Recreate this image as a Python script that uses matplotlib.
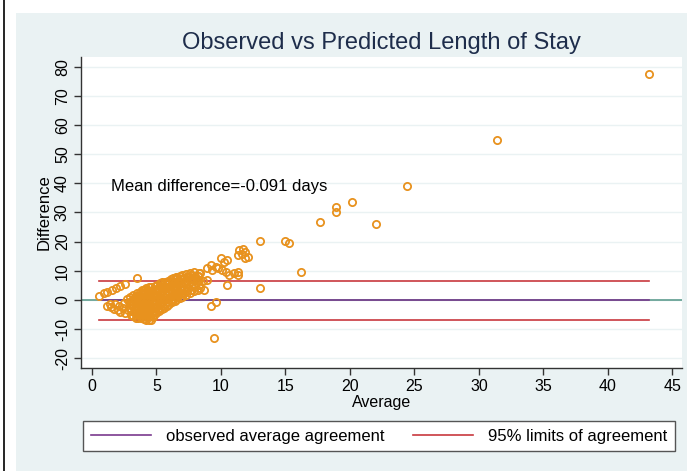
import matplotlib
matplotlib.use("Agg")
import matplotlib.pyplot as plt
from matplotlib.lines import Line2D

# ---------------- data ----------------
avg_chain = [0.55, 0.9, 1.2, 1.55, 1.9, 2.2, 2.6, 3.5]
diff_chain = [1.3, 2.2, 2.8, 3.5, 4.2, 4.8, 5.4, 7.4]

avg_low = [1.2, 1.4, 1.5, 1.7, 1.8, 2.0, 2.1, 2.2, 2.4, 2.5, 2.6, 2.7, 2.8, 2.9]
diff_low = [-2.1, -1.6, -2.6, -3.0, -1.3, -3.6, -2.2, -4.2, -2.9, -1.1, -4.6, 0.4, -3.6, -0.6]

avg_cluster = [
    3.0, 3.05, 2.95, 3.0, 3.1, 2.95,
    3.2, 3.3, 3.25, 3.2, 3.3, 3.25, 3.2,
    3.4, 3.5, 3.45, 3.4, 3.5, 3.45, 3.4, 3.5,
    3.6, 3.7, 3.65, 3.6, 3.7, 3.65, 3.6, 3.7,
    3.8, 3.9, 3.85, 3.8, 3.9, 3.85, 3.8, 3.9, 3.85,
    4.0, 4.1, 4.05, 4.0, 4.1, 4.05, 4.0, 4.1, 4.05,
    4.2, 4.3, 4.25, 4.2, 4.3, 4.25, 4.2, 4.3, 4.25, 4.2,
    4.4, 4.5, 4.45, 4.4, 4.5, 4.45, 4.4, 4.5, 4.45, 4.4,
    4.6, 4.7, 4.65, 4.6, 4.7, 4.65, 4.6, 4.7, 4.65, 4.6,
    4.8, 4.9, 4.85, 4.8, 4.9, 4.85, 4.8, 4.9, 4.85,
    5.0, 5.1, 5.05, 5.0, 5.1, 5.05, 5.0, 5.1, 5.05,
    5.2, 5.3, 5.25, 5.2, 5.3, 5.25, 5.2, 5.3, 5.25,
    5.4, 5.5, 5.45, 5.4, 5.5, 5.45, 5.4, 5.5, 5.45,
    5.6, 5.7, 5.65, 5.6, 5.7, 5.65, 5.6, 5.7,
    5.8, 5.9, 5.85, 5.8, 5.9, 5.85, 5.8, 5.9,
    6.0, 6.1, 6.05, 6.0, 6.1, 6.05, 6.0, 6.1,
    6.2, 6.3, 6.25, 6.2, 6.3, 6.25, 6.2, 6.3,
    6.4, 6.5, 6.45, 6.4, 6.5, 6.45, 6.4, 6.5,
    6.6, 6.7, 6.65, 6.6, 6.7, 6.65, 6.6,
    6.8, 6.9, 6.85, 6.8, 6.9, 6.85, 6.8,
    7.0, 7.1, 7.05, 7.0, 7.1, 7.05, 7.0,
    7.3, 7.4, 7.35, 7.3, 7.4, 7.35, 7.3,
    7.6, 7.7, 7.65, 7.6, 7.7, 7.65, 7.6,
    7.9, 8.0, 7.95, 7.9, 8.0, 7.95,
    8.2, 8.3, 8.25, 8.2, 8.3,
]
diff_cluster = [
    -5.1, -3.9, -2.7, -1.7, -0.3, 1.0,
    -5.7, -4.4, -3.0, -1.9, -0.7, 0.6, 1.8,
    -6.1, -4.8, -3.4, -2.3, -0.9, 0.3, 1.4, 2.4,
    -6.3, -5.0, -3.9, -2.5, -1.2, 0.1, 1.3, 2.6,
    -6.4, -5.2, -4.0, -2.8, -1.5, -0.2, 1.0, 2.3, 3.3,
    -6.6, -5.4, -4.1, -2.9, -1.6, -0.3, 0.9, 2.2, 3.5,
    -6.8, -5.5, -4.2, -3.0, -1.8, -0.5, 0.8, 2.0, 3.2, 4.0,
    -6.9, -5.7, -4.4, -3.1, -1.9, -0.6, 0.7, 1.9, 3.1, 4.4,
    -7.1, -5.8, -4.5, -3.3, -2.0, -0.8, 0.5, 1.8, 3.1, 4.5,
    -5.3, -4.1, -2.9, -1.6, -0.4, 0.8, 2.1, 3.4, 4.8,
    -4.6, -3.3, -2.0, -0.8, 0.5, 1.7, 3.0, 4.2, 5.2,
    -3.9, -2.7, -1.4, -0.1, 1.1, 2.4, 3.6, 4.8, 5.7,
    -3.3, -2.0, -0.8, 0.5, 1.7, 3.0, 4.2, 5.4, 6.1,
    -2.7, -1.4, -0.1, 1.1, 2.4, 3.6, 4.9, 6.1,
    -2.1, -0.9, 0.4, 1.6, 2.9, 4.1, 5.4, 6.6,
    -1.5, -0.2, 1.0, 2.3, 3.5, 4.8, 6.0, 7.1,
    -0.9, 0.3, 1.6, 2.8, 4.1, 5.3, 6.6, 7.5,
    -0.3, 0.9, 2.2, 3.4, 4.7, 5.9, 7.1, 7.9,
    0.2, 1.5, 2.7, 4.0, 5.2, 6.5, 7.7,
    0.7, 2.0, 3.2, 4.5, 5.7, 7.0, 8.2,
    1.1, 2.4, 3.6, 4.9, 6.1, 7.4, 8.6,
    1.6, 2.9, 4.1, 5.4, 6.6, 7.9, 8.9,
    2.2, 3.5, 4.7, 6.0, 7.2, 8.4, 9.3,
    3.0, 4.3, 5.5, 6.8, 8.0, 9.6,
    3.4, 5.0, 6.6, 8.0, 9.1,
]

avg_sparse = [8.2, 8.4, 8.2, 8.6, 8.9, 8.4, 8.7,
              8.9, 9.2, 9.3, 9.6, 9.8, 10.1, 10.4, 10.6, 11.0, 11.3, 11.3,
              10.0, 10.2, 10.5,
              11.4, 11.7, 11.9, 11.6, 11.3, 11.9, 12.1,
              10.5, 9.2, 9.6, 9.5,
              13.0, 13.0, 15.0, 15.3, 16.2, 17.7, 18.9, 18.9, 20.2, 22.0,
              24.4, 31.4, 43.2]
diff_sparse = [8.0, 9.1, 6.8, 6.3, 6.8, 4.0, 3.4,
               10.9, 12.0, 10.3, 11.4, 10.9, 10.3, 9.7, 8.6, 9.1, 8.6, 9.5,
               14.3, 13.1, 13.7,
               17.1, 17.5, 16.5, 15.7, 15.4, 14.3, 14.8,
               5.1, -2.3, -0.8, -13.0,
               20.2, 4.2, 20.2, 19.4, 9.7, 26.6, 31.9, 30.0, 33.6, 25.9,
               39.0, 54.8, 77.4]

mean_diff = -0.091
upper_limit = 6.6
lower_limit = -6.8
line_range = [0.55, 43.2]

x_ticks = [0, 5, 10, 15, 20, 25, 30, 35, 40, 45]
y_ticks = [-20, -10, 0, 10, 20, 30, 40, 50, 60, 70, 80]

title = "Observed vs Predicted Length of Stay"
mean_label = "Mean difference=-0.091 days"
legend_labels = ["observed average agreement", "95% limits of agreement"]

# ---------------- style ----------------
plt.rcParams['font.family'] = ['Liberation Sans', 'DejaVu Sans']
BG = '#EAF2F3'
ORANGE = '#E8921E'
RED = '#C8383E'
PURPLE = '#7A3A8E'
TEAL = '#5E9C8F'
NAVY = '#1E2D4B'
AXC = '#333333'

fig = plt.figure(figsize=(6.87, 4.71), dpi=100)
fig.patch.set_facecolor('white')
fig.patches.append(plt.Rectangle((16/687, 0), 1 - 16/687, 1 - 13/471,
                                 transform=fig.transFigure, facecolor=BG,
                                 edgecolor='none', zorder=-5))
fig.lines.append(Line2D([4/687, 4/687], [0, 1], transform=fig.transFigure,
                        color='black', lw=1.2, zorder=-4))

ax = fig.add_axes([81/687, 1 - 368/471, (682 - 81)/687, (368 - 57)/471])
ax.set_facecolor('white')
ax.set_xlim(-0.85, 45.75)
ax.set_ylim(-23.4, 83.3)

for y in y_ticks:
    ax.axhline(y, color=BG, lw=1.0, zorder=0.5)

ax.axhline(0, color=TEAL, lw=1.2, zorder=1)
ax.plot(line_range, [mean_diff, mean_diff], color=PURPLE, lw=1.2, zorder=2)
ax.plot(line_range, [upper_limit, upper_limit], color=RED, lw=1.2, zorder=2)
ax.plot(line_range, [lower_limit, lower_limit], color=RED, lw=1.2, zorder=2)

all_avg = avg_chain + avg_low + avg_cluster + avg_sparse
all_diff = diff_chain + diff_low + diff_cluster + diff_sparse
ax.plot(all_avg, all_diff, linestyle='none', marker='o', ms=5.2,
        mfc='none', mec=ORANGE, mew=1.3, zorder=3)

ax.text(1.5, 39, mean_label, fontsize=12, ha='left', va='center', color='black')

ax.set_xticks(x_ticks)
ax.set_yticks(y_ticks)
ax.set_yticklabels([str(v) for v in y_ticks], rotation=90, va='center')
ax.tick_params(axis='both', labelsize=11.5, color=AXC, length=5, width=1, direction='out',
               labelcolor='black', pad=3)
for s in ['top', 'right']:
    ax.spines[s].set_visible(False)
for s in ['left', 'bottom']:
    ax.spines[s].set_color(AXC)
    ax.spines[s].set_linewidth(1)

ax.set_xlabel("Average", fontsize=11.5, labelpad=1)
ax.set_ylabel("Difference", fontsize=12, labelpad=2)

fig.text(381.5/687, 1 - 43/471, title, fontsize=17, color=NAVY, ha='center', va='center')

handles = [Line2D([], [], color=PURPLE, lw=1.2), Line2D([], [], color=RED, lw=1.2)]
leg = fig.legend(handles, legend_labels, loc='center',
                 bbox_to_anchor=(379/687, 1 - 436/471),
                 ncol=2, fontsize=12, frameon=True, fancybox=False, framealpha=1,
                 handlelength=3.6, handletextpad=0.9, columnspacing=1.7,
                 borderaxespad=0, borderpad=0.45)
leg.get_frame().set_edgecolor('#555555')
leg.get_frame().set_facecolor('white')
leg.get_frame().set_linewidth(1)

fig.savefig('out.png', dpi=100, facecolor=fig.get_facecolor())
